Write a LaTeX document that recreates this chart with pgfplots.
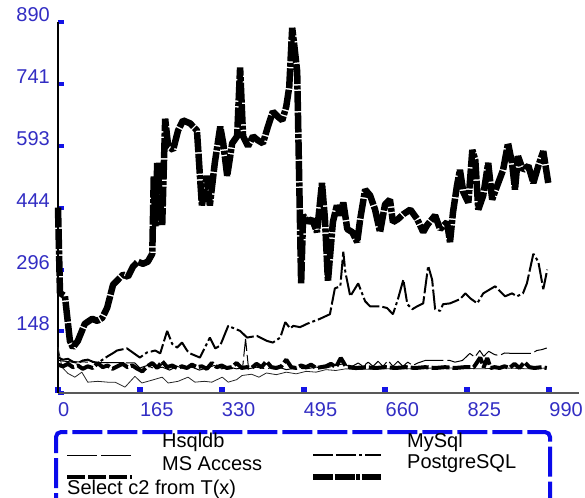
\documentclass[border=0pt]{standalone}
\usepackage{pgfplots}
\pgfplotsset{compat=1.18}
\usepackage{fontspec}
\setmainfont{Liberation Sans}
\definecolor{ticklbl}{RGB}{50,45,195}
\definecolor{tickblue}{RGB}{20,20,230}
\definecolor{boxblue}{RGB}{10,10,235}
\begin{document}
\begin{tikzpicture}
\useasboundingbox (-58pt,-104pt) rectangle (527pt,393pt);
\begin{axis}[
  at={(0pt,0pt)}, anchor=south west,
  scale only axis, width=521pt, height=371pt,
  xmin=0, xmax=1050, ymin=0, ymax=890,
  axis x line*=bottom, axis y line*=left,
  x axis line style={gray!70!black, line width=1.2pt},
  y axis line style={black, line width=2pt},
  xtick={0,165,330,495,660,825,990},
  ytick={0,148,296,444,593,741,890},
  yticklabels={,148,296,444,593,741,890},
  tick align=inside, major tick length=6pt,
  xtick style={tickblue, line width=6pt},
  ytick style={tickblue, line width=4pt},
  /pgf/number format/assume math mode=true,
  /pgf/number format/1000 sep={},
  ticklabel style={font=\fontsize{20}{24}\selectfont, text=ticklbl, inner sep=0pt},
  xticklabel style={anchor=north west, yshift=-9pt},
  yticklabel style={anchor=south east, xshift=-8pt},
  clip=false,
  every axis plot/.append style={line join=bevel, sharp plot, no markers},
]
% extra thin lower line
\addplot[black!85, line width=0.8pt] coordinates {
(0,110)(8,62)(20,47)(34,38)(48,50)(60,26)(80,28)(100,26)(115,26)(135,14)(155,40)(169,24)(190,31)(210,38)(222,24)(242,28)(262,38)(276,26)(295,28)(310,26)(331,38)(343,26)(360,32)(371,42)(390,45)(405,38)(420,48)(440,44)(460,50)(480,46)(500,52)(520,50)(540,56)(560,54)(580,58)(600,56)(640,58)(700,58)(760,60)(800,60)(850,58)(900,60)(950,58)(985,60)};
% Hsqldb
\addplot[black, line width=1pt, dash pattern=on 30pt off 4pt] coordinates {
(0,78)(15,76)(30,74)(45,75)(60,74)(80,73)(100,73)(120,73)(140,72)(155,72)(165,60)(180,66)(195,58)(210,62)(225,55)(240,64)(255,58)(270,62)(285,55)(300,60)(315,66)(330,58)(345,62)(360,58)(372,60)(378,130)(384,58)(400,62)(420,58)(440,64)(460,56)(480,60)(500,58)(520,62)(540,60)(560,66)(575,70)(590,62)(605,72)(615,64)(625,74)(635,64)(645,76)(655,64)(665,78)(675,64)(685,76)(695,64)(705,74)(715,66)(725,72)(740,78)(790,78)(800,74)(815,78)(830,95)(840,86)(850,102)(858,88)(868,100)(880,92)(890,90)(900,96)(915,95)(940,95)(955,95)(965,102)(975,104)(985,108)};
% MySql
\addplot[black, line width=2pt, dash pattern=on 20pt off 3pt on 20pt off 3pt on 3pt off 3pt] coordinates {
(0,85)(10,80)(20,82)(30,75)(40,72)(50,78)(60,80)(70,75)(80,72)(90,80)(100,88)(110,95)(119,102)(139,107)(165,85)(179,97)(196,102)(206,95)(220,149)(230,118)(240,109)(250,121)(260,102)(266,95)(286,85)(306,133)(317,107)(327,114)(343,161)(353,156)(367,149)(381,133)(401,137)(421,125)(433,121)(448,133)(458,170)(468,155)(474,161)(488,158)(502,166)(528,178)(548,189)(558,251)(569,256)(575,339)(579,291)(589,232)(605,263)(619,220)(629,208)(649,208)(663,204)(675,189)(685,225)(696,272)(704,213)(714,201)(724,208)(736,215)(746,305)(754,272)(760,201)(770,197)(776,213)(790,215)(810,225)(821,239)(831,227)(845,215)(857,239)(871,249)(881,256)(891,244)(901,232)(915,239)(925,232)(937,239)(945,263)(958,334)(968,315)(978,249)(986,296)};
% MS Access
\addplot[black, line width=4pt, dash pattern=on 18pt off 3pt] coordinates {
(0,68)(10,64)(20,70)(30,62)(40,66)(50,58)(60,64)(70,60)(80,72)(90,62)(100,66)(110,58)(120,64)(130,70)(140,62)(150,66)(160,58)(170,52)(180,64)(190,72)(200,60)(210,76)(220,62)(230,66)(240,60)(250,64)(260,60)(270,68)(280,62)(290,64)(300,58)(310,72)(320,62)(330,66)(340,60)(350,62)(360,72)(370,60)(380,62)(390,60)(400,70)(410,62)(420,76)(430,62)(440,60)(450,64)(460,80)(470,62)(480,60)(490,66)(500,62)(510,68)(520,60)(530,62)(540,64)(550,70)(560,62)(570,84)(580,64)(590,62)(600,60)(620,62)(640,60)(660,62)(680,60)(700,62)(720,60)(740,62)(760,60)(780,62)(800,60)(820,62)(838,62)(851,85)(858,62)(865,84)(872,60)(880,62)(890,60)(900,64)(910,60)(920,70)(930,60)(940,74)(950,62)(960,60)(975,62)(985,60)};
% PostgreSQL
\addplot[black, line width=6.5pt, dash pattern=on 20pt off 1.5pt on 20pt off 1.5pt on 4pt off 1.5pt] coordinates {
(0,445)(4,240)(14,232)(18,189)(24,125)(30,109)(40,125)(54,166)(69,178)(79,173)(89,180)(99,204)(105,232)(111,260)(121,272)(131,284)(141,279)(151,303)(161,315)(171,310)(181,315)(190,334)(193,520)(196,400)(200,552)(204,488)(210,403)(216,658)(222,592)(232,583)(242,630)(252,654)(266,647)(280,630)(290,450)(300,521)(306,450)(316,552)(327,639)(333,599)(341,521)(351,599)(361,616)(367,781)(373,616)(383,592)(393,616)(403,606)(413,599)(423,639)(433,675)(443,663)(452,654)(460,687)(466,734)(472,876)(476,836)(482,772)(490,263)(494,426)(504,410)(512,417)(522,386)(532,504)(538,417)(544,268)(554,410)(562,450)(569,426)(575,457)(583,393)(593,386)(603,362)(609,417)(619,488)(629,474)(639,440)(649,386)(659,452)(669,464)(675,410)(685,417)(696,429)(710,440)(724,417)(736,386)(744,403)(760,426)(770,393)(784,410)(790,362)(796,433)(804,497)(810,535)(817,481)(827,457)(835,583)(841,559)(847,440)(857,474)(867,552)(875,464)(885,497)(897,535)(907,599)(915,552)(921,488)(927,568)(937,535)(948,545)(958,504)(968,545)(978,580)(988,504)};
\end{axis}
% legend
\draw[boxblue, line width=4pt, dash pattern=on 30pt off 5pt, rounded corners=5pt] (-2pt,-130pt) -- (-2pt,-39pt) -- (492pt,-39pt) -- (492pt,-130pt);
\draw[black, line width=1pt, dash pattern=on 30pt off 4pt] (9pt,-62pt) -- (74pt,-62pt);
\draw[black, line width=2pt, dash pattern=on 20pt off 3pt on 20pt off 3pt on 3pt off 3pt] (255pt,-62pt) -- (323pt,-62pt);
\draw[black, line width=4pt, dash pattern=on 18pt off 3pt] (9pt,-84pt) -- (74pt,-84pt);
\draw[black, line width=6pt, dash pattern=on 20pt off 1.5pt on 20pt off 1.5pt on 4pt off 1.5pt] (255pt,-84pt) -- (323pt,-84pt);
\begin{scope}[every node/.style={anchor=west, inner sep=0pt, font=\fontsize{20}{24}\selectfont}]
\node at (104pt,-49pt) {Hsqldb};
\node at (349pt,-49pt) {MySql};
\node at (104pt,-71pt) {MS Access};
\node at (349pt,-71pt) {PostgreSQL};
\node at (9pt,-96pt) {Select c2 from T(x)};
\end{scope}
\end{tikzpicture}
\end{document}
